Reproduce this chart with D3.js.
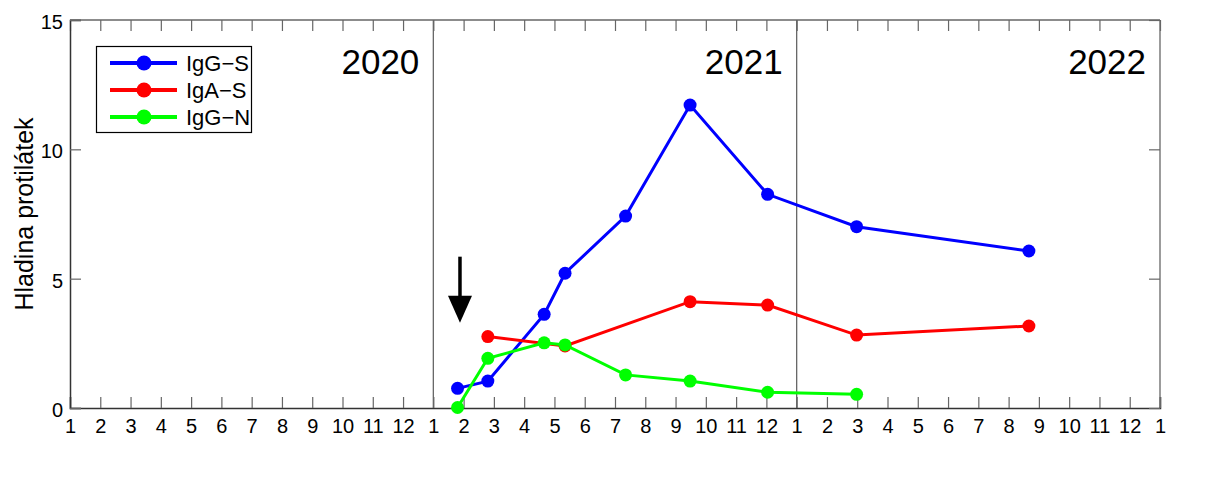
<!DOCTYPE html>
<html lang="cs">
<head>
<meta charset="UTF-8">
<title>Hladina protilátek</title>
<script src="https://cdn.jsdelivr.net/npm/d3@7"></script>
<style>
    body { margin: 0; background: #fff; }
    svg text { font-family: "Liberation Sans", Arial, sans-serif; fill: #000; }
</style>
</head>
<body>
<svg width="1220" height="480"></svg>
<script>
// months counted from 1 Jan 2020 (0 = tick "1" of 2020)
var months = [12.8, 13.8, 15.66, 16.35, 18.35, 20.48, 23.04, 25.98, 31.67];
var iggS = [0.76, 1.04, 3.62, 5.21, 7.42, 11.71, 8.26, 7.01, 6.07];
var igaS = [null, 2.76, null, 2.40, null, 4.11, 3.98, 2.82, 3.17];
var iggN = [0.02, 1.92, 2.52, 2.44, 1.28, 1.04, 0.61, 0.53, null];

var seriesNames = ['IgG\u2212S', 'IgA\u2212S', 'IgG\u2212N'];
var seriesColors = ['#0000ff', '#ff0000', '#00ff00'];
var years = ['2020', '2021', '2022'];
var yTicks = [0, 5, 10, 15];
var monthTicks = d3.range(0, 37);
var arrow = {x: 12.88, from: 5.85, to: 3.3};

var svg = d3.select('svg');
var plotL = 70, plotR = 1160, plotT = 20, plotB = 408;

var x = d3.scaleLinear().domain([0, 36]).range([plotL, plotR]);
var y = d3.scaleLinear().domain([0, 15]).range([plotB, plotT]);

// frame (top / right lighter)
svg.append('line').attr('x1', plotL).attr('x2', plotR).attr('y1', plotT).attr('y2', plotT)
    .attr('stroke', '#666').attr('stroke-width', 1.3);
svg.append('line').attr('x1', plotR).attr('x2', plotR).attr('y1', plotT).attr('y2', plotB)
    .attr('stroke', '#666').attr('stroke-width', 1.3);

// year dividers
svg.selectAll('.div').data([12, 24]).enter().append('line')
    .attr('x1', d => x(d)).attr('x2', d => x(d))
    .attr('y1', plotT).attr('y2', plotB)
    .attr('stroke', '#666').attr('stroke-width', 1.3);

// axes
var xAxis = d3.axisBottom(x).tickValues(monthTicks)
    .tickFormat(d => (d % 12) + 1).tickSize(-11).tickPadding(11);
var gX = svg.append('g').attr('transform', 'translate(0,' + plotB + ')').call(xAxis);

var xTop = d3.axisTop(x).tickValues(monthTicks).tickFormat('').tickSize(-11);
var gXT = svg.append('g').attr('transform', 'translate(0,' + plotT + ')').call(xTop);
gXT.select('.domain').remove();

var yAxis = d3.axisLeft(y).tickValues(yTicks).tickSize(-11).tickPadding(7);
var gY = svg.append('g').attr('transform', 'translate(' + plotL + ',0)').call(yAxis);

var yRight = d3.axisRight(y).tickValues(yTicks).tickFormat('').tickSize(-11);
var gYR = svg.append('g').attr('transform', 'translate(' + plotR + ',0)').call(yRight);
gYR.select('.domain').remove();

svg.selectAll('.domain').attr('stroke', '#333').attr('stroke-width', 1.5);
svg.selectAll('.tick line').attr('stroke', '#666').attr('stroke-width', 1.2);
svg.selectAll('g.tick text').attr('fill', '#000')
    .style('font-family', '"Liberation Sans", Arial, sans-serif')
    .style('font-size', '20px');
gX.selectAll('.tick text').attr('dy', '0.72em');
gY.selectAll('.tick text').attr('dy', '0.42em');

// y label
svg.append('text')
    .attr('transform', 'translate(33,' + ((plotT + plotB) / 2) + ') rotate(-90)')
    .attr('text-anchor', 'middle')
    .attr('font-size', 25)
    .text('Hladina protilátek');

// year labels
svg.selectAll('.year').data(years).enter().append('text')
    .attr('x', (d, i) => x((i + 1) * 12) - 14)
    .attr('y', 74)
    .attr('text-anchor', 'end')
    .attr('font-size', 35)
    .text(d => d);

// series
var data = [iggS, igaS, iggN].map(function (vals, i) {
    return {
        name: seriesNames[i],
        color: seriesColors[i],
        pts: months.map((m, j) => ({m: m, v: vals[j]})).filter(p => p.v !== null)
    };
});

var line = d3.line().x(d => x(d.m)).y(d => y(d.v));

var gS = svg.selectAll('.series').data(data).enter().append('g');
gS.append('path')
    .attr('d', d => line(d.pts))
    .attr('fill', 'none')
    .attr('stroke', d => d.color)
    .attr('stroke-width', 3);
gS.selectAll('circle').data(d => d.pts.map(p => ({p: p, c: d.color}))).enter().append('circle')
    .attr('cx', d => x(d.p.m))
    .attr('cy', d => y(d.p.v))
    .attr('r', 6.5)
    .attr('fill', d => d.c);

// arrow
var ax = x(arrow.x);
svg.append('line')
    .attr('x1', ax).attr('x2', ax)
    .attr('y1', y(arrow.from)).attr('y2', y(arrow.to) - 20)
    .attr('stroke', '#000').attr('stroke-width', 3.5);
svg.append('path')
    .attr('d', 'M' + (ax - 12) + ',' + (y(arrow.to) - 27) + 'L' + (ax + 12) + ',' + (y(arrow.to) - 27) +
        'L' + ax + ',' + y(arrow.to) + 'Z')
    .attr('fill', '#000');

// legend
var lg = svg.append('g');
lg.append('rect').attr('x', 96.5).attr('y', 46.5).attr('width', 155).attr('height', 86)
    .attr('fill', '#fff').attr('stroke', '#000').attr('stroke-width', 1.2);
var items = lg.selectAll('.item').data(data).enter().append('g')
    .attr('transform', (d, i) => 'translate(0,' + (63 + i * 27) + ')');
items.append('line').attr('x1', 110).attr('x2', 177).attr('y1', 0).attr('y2', 0)
    .attr('stroke', d => d.color).attr('stroke-width', 4);
items.append('circle').attr('cx', 144).attr('cy', 0).attr('r', 7.5).attr('fill', d => d.color);
items.append('text').attr('x', 186).attr('y', 8).attr('font-size', 22).text(d => d.name);
</script>
</body>
</html>
